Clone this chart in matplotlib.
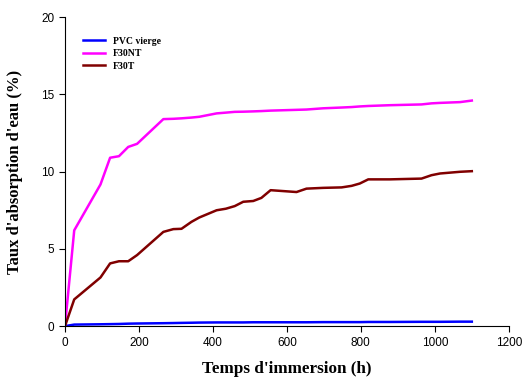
import matplotlib
matplotlib.use("Agg")
import matplotlib.pyplot as plt

# temps d'immersion (h)
temps = [0, 25, 96, 122, 146, 171, 195, 266, 293, 315, 342, 363, 410, 435,
         459, 482, 509, 531, 556, 626, 653, 698, 748, 775, 797, 820, 878,
         964, 991, 1014, 1068, 1100]

pvc_vierge = [0, 0.10, 0.12, 0.13, 0.14, 0.16, 0.17, 0.19, 0.20, 0.21, 0.22,
              0.23, 0.24, 0.24, 0.24, 0.24, 0.25, 0.25, 0.25, 0.25, 0.25,
              0.26, 0.26, 0.26, 0.26, 0.27, 0.27, 0.28, 0.28, 0.28, 0.29, 0.29]

f30nt = [0, 6.2, 9.17, 10.9, 11.0, 11.6, 11.8, 13.4, 13.42, 13.45, 13.5,
         13.55, 13.77, 13.82, 13.87, 13.88, 13.9, 13.92, 13.95, 14.0, 14.02,
         14.1, 14.15, 14.18, 14.22, 14.25, 14.3, 14.35, 14.42, 14.45, 14.5, 14.6]

f30t = [0, 1.73, 3.15, 4.06, 4.2, 4.2, 4.6, 6.1, 6.28, 6.3, 6.75, 7.03,
        7.5, 7.6, 7.77, 8.05, 8.1, 8.3, 8.8, 8.68, 8.9, 8.95, 8.98, 9.08,
        9.23, 9.5, 9.5, 9.55, 9.77, 9.88, 9.99, 10.03]

fig = plt.figure(figsize=(5.24, 3.81), dpi=100)
ax = fig.add_axes([0.124, 0.144, 0.847, 0.811])

ax.plot(temps, pvc_vierge, color="#0000ff", lw=1.8, label="PVC vierge")
ax.plot(temps, f30nt, color="#ff00ff", lw=1.8, label="F30NT")
ax.plot(temps, f30t, color="#800000", lw=1.8, label="F30T")

ax.set_xlim(0, 1200)
ax.set_ylim(0, 20)
ax.set_xticks(range(0, 1201, 200))
ax.set_yticks(range(0, 21, 5))
for s in ["top", "right"]:
    ax.spines[s].set_visible(False)
ax.tick_params(direction="out", length=4, labelsize=8.5)
for lab in ax.get_xticklabels() + ax.get_yticklabels():
    lab.set_family("Liberation Sans")

ax.set_xlabel("Temps d'immersion (h)", family="Liberation Serif",
              fontweight="bold", fontsize=12.3, labelpad=9)
ax.set_ylabel("Taux d'absorption d'eau (%)", family="Liberation Serif",
              fontweight="bold", fontsize=12, labelpad=13)

ax.legend(loc="upper left", bbox_to_anchor=(0.02, 0.965), frameon=False,
          prop={"family": "Liberation Serif", "weight": "bold", "size": 7},
          handlelength=2.3, labelspacing=0.35)

fig.savefig("out.png", dpi=100)
